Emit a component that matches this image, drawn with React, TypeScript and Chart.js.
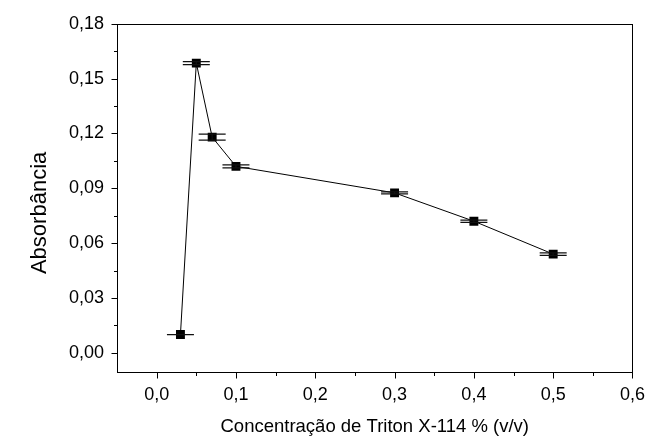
import React, { useEffect, useRef } from "react";
import { Chart, registerables } from "chart.js";

Chart.register(...registerables);

const concentrations = [0.03, 0.05, 0.07, 0.1, 0.3, 0.4, 0.5];
const absorbance = [0.0100, 0.1585, 0.1180, 0.1020, 0.0875, 0.0720, 0.0540];
const absorbanceErr = [0.0, 0.0008, 0.0016, 0.0008, 0.0006, 0.0006, 0.0007];

const xMajorTicks = [0, 0.1, 0.2, 0.3, 0.4, 0.5, 0.6];
const xMinorTicks = [0.05, 0.15, 0.25, 0.35, 0.45, 0.55];
const yMajorTicks = [0, 0.03, 0.06, 0.09, 0.12, 0.15, 0.18];
const yMinorTicks = [0.015, 0.045, 0.075, 0.105, 0.135, 0.165];

const yTitle = "Absorbância";
const xTitle = "Concentração de Triton X-114 % (v/v)";

const FONT = "'Liberation Sans', Arial, sans-serif";

const framePlugin = {
  id: "frameAndErrors",
  afterDatasetsDraw(chart: any) {
    const { ctx, chartArea } = chart;
    const xs = chart.scales.x;
    const ys = chart.scales.y;
    ctx.save();
    ctx.strokeStyle = "#000";
    ctx.lineWidth = 1;
    const l = Math.round(chartArea.left) + 0.5;
    const r = Math.round(chartArea.right) + 0.5;
    const t = Math.round(chartArea.top) + 0.5;
    const b = Math.round(chartArea.bottom) + 0.5;
    ctx.strokeRect(l, t, r - l, b - t);
    ctx.beginPath();
    xMajorTicks.forEach((v) => {
      const px = Math.round(xs.getPixelForValue(v)) + 0.5;
      ctx.moveTo(px, b);
      ctx.lineTo(px, b + 6);
    });
    xMinorTicks.forEach((v) => {
      const px = Math.round(xs.getPixelForValue(v)) + 0.5;
      ctx.moveTo(px, b);
      ctx.lineTo(px, b + 3.5);
    });
    yMajorTicks.forEach((v) => {
      const py = Math.round(ys.getPixelForValue(v)) + 0.5;
      ctx.moveTo(l, py);
      ctx.lineTo(l - 6, py);
    });
    yMinorTicks.forEach((v) => {
      const py = Math.round(ys.getPixelForValue(v)) + 0.5;
      ctx.moveTo(l, py);
      ctx.lineTo(l - 3.5, py);
    });
    ctx.stroke();
    // error bars
    ctx.strokeStyle = "#111";
    ctx.lineWidth = 1.2;
    ctx.beginPath();
    concentrations.forEach((xv, i) => {
      const px = xs.getPixelForValue(xv);
      const yHi = ys.getPixelForValue(absorbance[i] + absorbanceErr[i]);
      const yLo = ys.getPixelForValue(absorbance[i] - absorbanceErr[i]);
      const half = 13.5;
      ctx.moveTo(px - half, yHi);
      ctx.lineTo(px + half, yHi);
      ctx.moveTo(px - half, yLo);
      ctx.lineTo(px + half, yLo);
      ctx.moveTo(px, yHi);
      ctx.lineTo(px, yLo);
    });
    ctx.stroke();
    // y axis title
    ctx.fillStyle = "#000";
    ctx.font = `22px ${FONT}`;
    ctx.textAlign = "center";
    ctx.textBaseline = "middle";
    ctx.translate(40, (chartArea.top + chartArea.bottom) / 2 + 15);
    ctx.rotate(-Math.PI / 2);
    ctx.fillText(yTitle, 0, 0);
    ctx.restore();
  },
};

export default function App() {
  const ref = useRef<HTMLCanvasElement | null>(null);

  useEffect(() => {
    if (!ref.current) return;
    const chart = new Chart(ref.current, {
      type: "scatter",
      data: {
        datasets: [
          {
            data: concentrations.map((x, i) => ({ x, y: absorbance[i] })),
            showLine: true,
            borderColor: "#000",
            borderWidth: 1,
            backgroundColor: "#000",
            pointStyle: "rect",
            pointRadius: 6.3,
            pointBorderWidth: 0,
            pointBackgroundColor: "#000",
          },
        ],
      },
      plugins: [framePlugin],
      options: {
        animation: false,
        responsive: true,
        maintainAspectRatio: false,
        layout: { padding: { top: 23, right: 15, left: 0, bottom: 0 } },
        plugins: {
          legend: { display: false },
          tooltip: { enabled: false },
        },
        scales: {
          x: {
            type: "linear",
            min: -0.05,
            max: 0.6,
            grid: { display: false, drawTicks: false },
            border: { display: false },
            ticks: {
              stepSize: 0.1,
              includeBounds: false,
              autoSkip: false,
              maxRotation: 0,
              padding: 12,
              color: "#000",
              font: { family: FONT, size: 18 },
              callback: (v: any) => Number(v).toFixed(1).replace(".", ","),
            },
            title: {
              display: true,
              text: xTitle,
              color: "#000",
              font: { family: FONT, size: 18.5 },
              padding: 5,
            },
            afterFit: (s: any) => {
              s.height = 71;
            },
          },
          y: {
            type: "linear",
            min: -0.0105,
            max: 0.18,
            grid: { display: false, drawTicks: false },
            border: { display: false },
            afterBuildTicks: (s: any) => {
              s.ticks = yMajorTicks.map((v) => ({ value: v }));
            },
            ticks: {
              autoSkip: false,
              padding: 13,
              color: "#000",
              font: { family: FONT, size: 18 },
              callback: (v: any) => Number(v).toFixed(2).replace(".", ","),
            },
            title: { display: false },
            afterFit: (s: any) => {
              s.width = 117;
            },
          },
        },
      },
    });
    return () => chart.destroy();
  }, []);

  return (
    <div style={{ position: "fixed", left: 0, top: 0, width: 657, height: 443, background: "#fff" }}>
      <canvas ref={ref} />
    </div>
  );
}
